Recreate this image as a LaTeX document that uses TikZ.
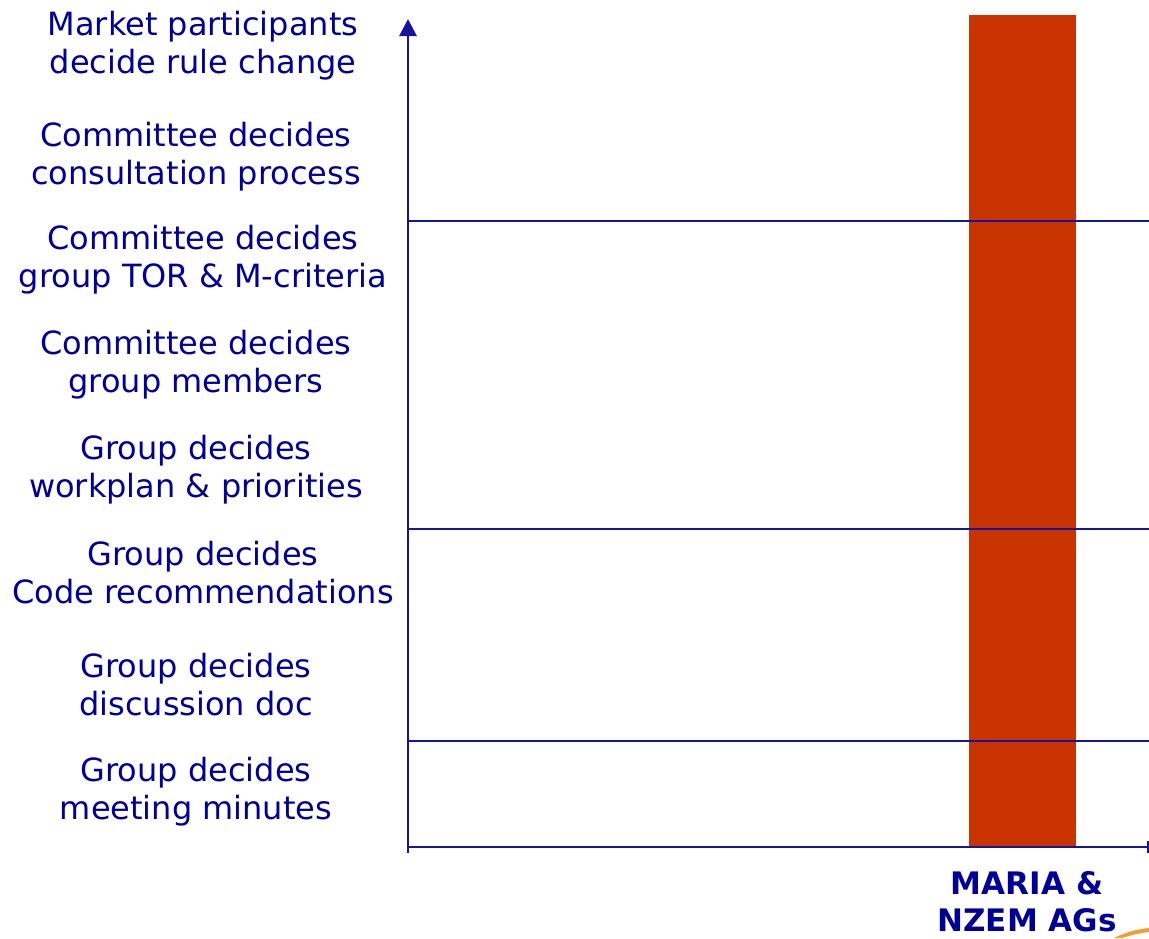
\documentclass[tikz,border=0pt]{standalone}
\usepackage{fontspec}
\setmainfont{DejaVu Sans}
\usetikzlibrary{arrows.meta}
\definecolor{navy}{HTML}{000099}
\definecolor{axisblue}{HTML}{1414A0}
\definecolor{barred}{HTML}{C93300}
\definecolor{swoosh}{HTML}{F0A030}
\begin{document}
\begin{tikzpicture}[x=1pt,y=-1pt,
  lab/.style={align=center,text=navy,font=\fontsize{32}{38}\selectfont,inner sep=0pt},
  blab/.style={align=center,text=navy,font=\fontsize{31}{37}\selectfont\bfseries,inner sep=0pt},
  axis/.style={draw=axisblue,line width=2.8pt},
  grid/.style={draw=axisblue,line width=2.4pt}]
\useasboundingbox (0,0) rectangle (1149,938);
\fill[white] (0,0) rectangle (1149,938);
% bar
\node[fill=barred,inner sep=0pt,minimum width=107pt,minimum height=832pt,anchor=north west] (bar) at (969,15) {};
% labels
\node[lab] (l1) at (203,46) {Market participants\\decide rule change};
\node[lab] (l2) at (196,156.5) {Committee decides\\consultation process};
\node[lab] (l3) at (203,260) {Committee decides\\group TOR \& M-criteria};
\node[lab] (l4) at (196,365) {Committee decides\\group members};
\node[lab] (l5) at (196,469.5) {Group decides\\workplan \& priorities};
\node[lab] (l6) at (203,573) {Group decides\\Code recommendations};
\node[lab] (l7) at (196,685) {Group decides\\discussion doc};
\node[lab] (l8) at (196,792) {Group decides\\meeting minutes};
\node[blab] (b1) at (1027,902) {MARIA \&\\NZEM AGs};
% axes
\coordinate (o) at (408,853);
\coordinate (top) at (408,19);
\coordinate (xr) at (1149,847);
\coordinate (xl) at (407,847);
\coordinate (t1) at (1148,841);
\coordinate (t2) at (1148,853);
\draw[axis,-{Triangle[length=17pt,width=17pt]}] (o) -- (top);
\draw[axis] (xl) -- (xr);
\draw[axis] (t1) -- (t2);
% horizontal separators
\coordinate (h1a) at (408,221); \coordinate (h1b) at (1149,221);
\coordinate (h2a) at (408,529); \coordinate (h2b) at (1149,529);
\coordinate (h3a) at (408,741); \coordinate (h3b) at (1149,741);
\draw[grid] (h1a) -- (h1b);
\draw[grid] (h2a) -- (h2b);
\draw[grid] (h3a) -- (h3b);
% orange swoosh at corner
\fill[swoosh] (1114,938) .. controls (1126,932) and (1138,929) .. (1149,928) -- (1149,932) .. controls (1139,933) and (1128,936) .. (1122,938) -- cycle;
\end{tikzpicture}
\end{document}
